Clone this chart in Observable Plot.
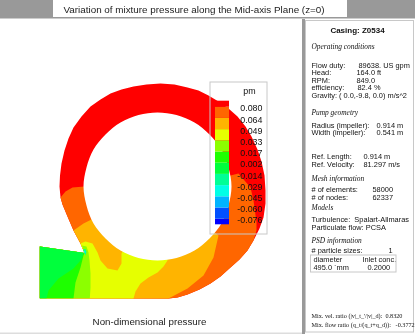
<!DOCTYPE html>
<html>
<head>
<meta charset="utf-8">
<style>html,body{margin:0;padding:0;background:#fff;overflow:hidden}svg{display:block;filter:blur(0.3px)}</style>
<script src="https://cdn.jsdelivr.net/npm/d3@7"></script>
<script src="https://cdn.jsdelivr.net/npm/@observablehq/plot@0.6"></script>
</head>
<body>
<div id="chart"></div>
<script>
// colour levels (legend values, ascending) and band colours
const legendValues = [-0.076,-0.060,-0.045,-0.029,-0.014,0.002,0.017,0.033,0.049,0.064,0.080];
const bandColors = ["#0000ff","#0050ff","#00b4ff","#00ffe6","#00ff96","#00ff3c","#1eff00","#8cff00","#e6ff00","#ffb400","#ff6600","#ff0000"];
const legendTexts = ["-0.076","-0.060","-0.045","-0.029","-0.014","0.002","0.017","0.033","0.049","0.064","0.080"];

// geometry
const outerLower = [[60,197],[62,204],[67,216],[73,230],[80,243],[84,252.5]];
const outerUpper = [[60,197],[59,186],[59.5,175],[61,163],[64,150],[68,138],[73,127],[81,116],[90,106],[100,99],[110,93],[121,89],[133,86],[146,84],[160,83],[174,84],[187,87],[198,90],[208,95],[218,101],[228,108],[237,116],[245,126],[251,136],[257,149],[261,161],[264,175],[265,190],[265,203],[263,217],[259,228],[253,240]];
const outerRight = [[253,240],[247,250],[239,259],[230,267],[220,276],[210,283],[199,289],[187,294],[177,297],[168,298]];
const outlet = [[39.3,246],[39.3,297.7]];
const hub = [[157,186]];
const hole = [[157,112],[176,114.5],[194,122],[209,134],[221,149],[228,167],[231,186],[228,205],[221,223],[209,238],[194,250],[176,257.5],[157,260],[138,257.5],[120,250],[105,238],[93,223],[86,205],[83,186],[86,167],[93,149],[105,134],[120,122],[138,114.5]];

const redArea = [...outerLower.slice().reverse(), ...outerUpper, ...outerRight, ...outlet.slice().reverse()];
const orangeArea = [[84,186],[72,187],[65,191],...outerLower,...outlet,...outerRight.slice().reverse(),[256,230],[256,222],[253,200],[250,187],[238,173],[230,175],...hub];
const amberArea = [...hub,[91,219],[83,223],[73,230],[80,243],[84,252.5],...outlet,[168,298],[187,288],[203,275],[213,257],[218,235]];
const yellowArea = [...hub,[121,253],[121,263],[117,270],[107,268],[100,260],[97,252],[92,243],[85,241],[80,243],[84,252.5],...outlet,[133,298],[135,291],[140,283],[148,277],[157,272],[163,266],[167,260]];
const limeArea = [[84,252.5],[81.5,245],[86,246],[88,252],[89,260],[90,273],[90,287],[89.3,297.7],[39.3,297.7],[39.3,246]];
const greenArea = [[84,252.5],[83,255],[80,267],[75,282],[73,297.7],[39.3,297.7],[39.3,246]];
const green2Area = [[84,252.5],[83,253],[80,260],[73,268],[58,278],[48,290],[46,297.7],[39.3,297.7],[39.3,246]];
const tipTeal = [[84,252.5],[82.5,249],[85,248.5],[86,251.5],[85,255]];
const tipCyan = [[84,252.5],[83.3,250.5],[84.8,250],[85,252.5]];

const regions = [
  [0.09, redArea],[0.072, orangeArea],[0.056, amberArea],[0.041, yellowArea],
  [0.025, limeArea],[0.01, greenArea],[-0.006, green2Area],[-0.021, tipTeal],[-0.037, tipCyan]
];

// panel text
const sansLabels = ["Flow duty:","89638. US gpm","Head:","164.0 ft","RPM:","849.0","efficiency:","82.4 %","Gravity: ( 0.0,-9.8, 0.0) m/s^2","Radius (impeller):","0.914 m","Width (impeller):","0.541 m","Ref. Length:","0.914 m","Ref. Velocity:","81.297 m/s","# of elements:","58000","# of nodes:","62337","Turbulence:  Spalart-Allmaras","Particulate flow: PCSA","# particle sizes:","1","diameter","Inlet conc.","495.0 `mm","0.2000"];
const sansX = [311,358,311,356,311,356,311,357,311,311,376,311,376,311,363,311,363,311,372,311,372,311,311,311,388,313,362,313,367];
const sansY = [65,65,72.5,72.5,80,80,87.5,87.5,95,125,125,132.5,132.5,156,156,164,164,189,189,197,197,219,227,250,250,259,259,267,267];
const headLabels = ["Operating conditions","Pump geometry","Mesh information","Models","PSD information"];
const headY = [46,112,178,207,240];
const footLabels = ["Mix. vel. ratio (|v|_t_'/|v|_d):  0.8320","Mix. flow ratio (q_t/(q_t+q_d)):\u00a0\u00a0 -0.3772"];
const footY = [316,325];

const W = 415, H = 334;
const X = d => d[0], Y = d => d[1];
const rect = (x1,y1,x2,y2,o) => Plot.rect([0],{x1:()=>x1,x2:()=>x2,y1:()=>y1,y2:()=>y2,...o});

// legend rows, top to bottom
const rowH = 11.2, rowTop = 106.7;
const legendRows = bandColors.map((c,i) => {
  const k = 11 - i; // k = 0 is the top (red) row
  return {value: i === 11 ? 0.09 : (i === 0 ? -0.09 : (legendValues[i-1]+legendValues[i])/2),
          y1: k === 0 ? 100.7 : rowTop + (k-1)*rowH,
          y2: k === 11 ? 224.3 : rowTop + k*rowH};
});

const marks = [
  // page chrome
  rect(0,0,415,18.5,{fill:"#999999"}),
  rect(53,0,347,17,{fill:"#ffffff"}),
  rect(302,19,305,334,{fill:"#999999"}),
  rect(305.5,20.5,413.5,332,{fill:"#ffffff",stroke:"#c8c8c8",strokeWidth:1}),
  rect(0,332.5,302,334,{fill:"#dddddd"}),
  // contour bands
  ...regions.map(([v,pts]) => Plot.line(pts,{x:X,y:Y,fill:()=>v,stroke:"none",strokeWidth:0,strokeOpacity:0,curve:"linear-closed"})),
  Plot.line(hole,{x:X,y:Y,fill:"#ffffff",stroke:"none",strokeWidth:0,strokeOpacity:0,curve:"catmull-rom-closed"}),
  // colour bar
  Plot.rect(legendRows,{x1:()=>215,x2:()=>229,y1:"y1",y2:"y2",fill:"value"}),
  Plot.rect([0],{x1:()=>210,x2:()=>267,y1:()=>82,y2:()=>234,fill:"none",stroke:"#c8c8c8",strokeWidth:1}),
  Plot.text(legendTexts,{x:()=>262,y:(d,i)=>rowTop+(10-i)*rowH+1.4,text:d=>d,textAnchor:"end",fontSize:8.9,fontFamily:"Liberation Sans",fill:"#111"}),
  Plot.text(["pm"],{x:()=>249,y:()=>90.5,text:d=>d,fontSize:8.9,fontFamily:"Liberation Sans",fill:"#111"}),
  // titles
  Plot.text(["Variation of mixture pressure along the Mid-axis Plane (z=0)"],{x:()=>63,y:()=>9,text:d=>d,textAnchor:"start",fontSize:9.85,fontFamily:"Liberation Sans",fill:"#222"}),
  Plot.text(["Non-dimensional pressure"],{x:()=>149,y:()=>321,text:d=>d,fontSize:9.75,fontFamily:"Liberation Sans",fill:"#222"}),
  // panel
  Plot.text(["Casing: Z0534"],{x:()=>357,y:()=>30,text:d=>d,fontSize:8,fontWeight:"bold",fontFamily:"Liberation Sans",fill:"#111"}),
  Plot.text(headLabels,{x:()=>311,y:(d,i)=>headY[i],text:d=>d,textAnchor:"start",fontSize:7.4,fontStyle:"italic",fontFamily:"Liberation Serif",fill:"#111"}),
  Plot.text(sansLabels,{x:(d,i)=>sansX[i],y:(d,i)=>sansY[i],text:d=>d,textAnchor:"start",fontSize:7.4,fontFamily:"Liberation Sans",fill:"#111"}),
  Plot.rect([0],{x1:()=>310.5,x2:()=>396,y1:()=>255,y2:()=>272,fill:"none",stroke:"#c8c8c8",strokeWidth:1}),
  Plot.text(footLabels,{x:()=>311,y:(d,i)=>footY[i],text:d=>d,textAnchor:"start",fontSize:6.2,fontFamily:"Liberation Serif",fill:"#111"})
];

const chart = Plot.plot({
  width: W, height: H, margin: 0,
  style: {background:"#fff"},
  x: {domain:[0,W], range:[0,W], axis:null},
  y: {domain:[0,H], range:[0,H], axis:null},
  color: {type:"threshold", domain:legendValues, range:bandColors},
  marks
});
document.getElementById("chart").append(chart);
</script>
</body>
</html>
